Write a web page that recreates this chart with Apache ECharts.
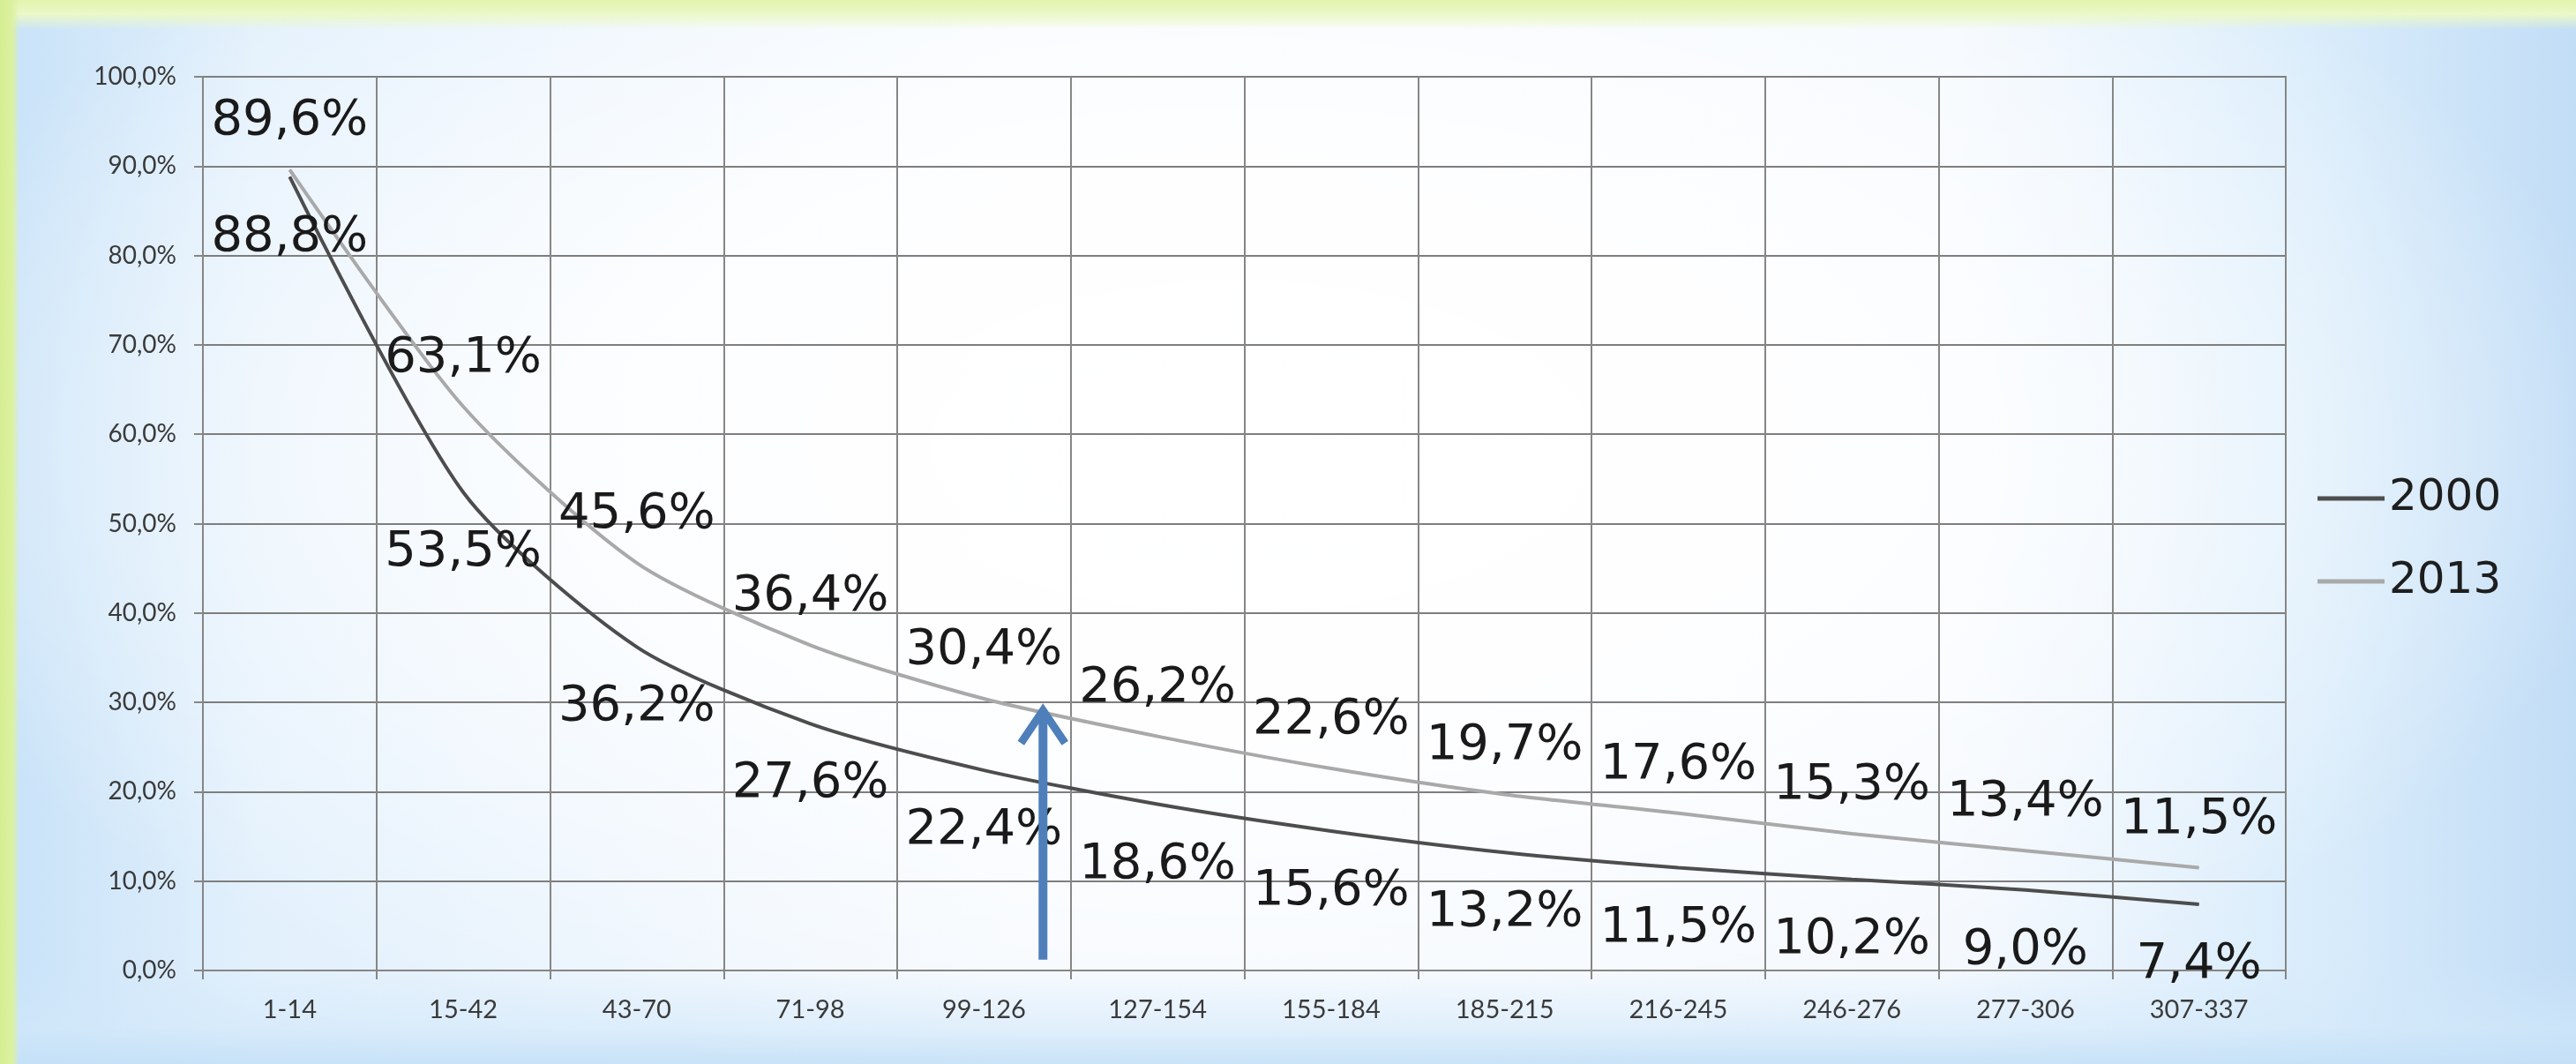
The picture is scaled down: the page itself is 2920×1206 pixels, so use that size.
<!DOCTYPE html>
<html><head><meta charset="utf-8">
<script src="https://cdn.jsdelivr.net/npm/echarts@6/dist/echarts.min.js"></script>
<style>
html,body{margin:0;padding:0;width:2920px;height:1206px;overflow:hidden;}
body{background:
 linear-gradient(to right, #d6ee92 0px, #dcf1a2 14px, rgba(220,241,164,0) 22px),
 linear-gradient(to bottom, #e2f4ae 0px, #ebf8c8 16px, rgba(234,247,198,0) 34px),
 linear-gradient(to top, rgba(196,224,247,0.9) 0px, rgba(210,232,250,0.6) 40px, rgba(220,238,252,0) 110px),
 radial-gradient(ellipse 55% 62% at 48% 42%, rgba(255,255,255,1) 0%, rgba(255,255,255,0.85) 45%, rgba(255,255,255,0) 100%),
 linear-gradient(to right, #c8e2f8 0%, #e2f0fc 10%, #f5f9fe 40%, #f3f8fe 76%, #d9ecfb 90%, #c2ddf6 100%);
}
#c{width:2920px;height:1206px;}
</style></head>
<body><div id="c"></div>
<script>
const categories = ['1-14','15-42','43-70','71-98','99-126','127-154','155-184','185-215','216-245','246-276','277-306','307-337'];
const seriesNames = ['2000','2013'];
const values2000 = [88.8, 53.5, 36.2, 27.6, 22.4, 18.6, 15.6, 13.2, 11.5, 10.2, 9.0, 7.4];
const values2013 = [89.6, 63.1, 45.6, 36.4, 30.4, 26.2, 22.6, 19.7, 17.6, 15.3, 13.4, 11.5];
const yMin = 0, yMax = 100, yStep = 10;
// arrow annotation: position along category axis (index units) and value range
const arrowCategoryPos = 4.34;
const arrowTipValue = 29.4;
const arrowBaseValue = 1.2;

const fmt = v => v.toFixed(1).replace('.', ',') + '%';

const chart = echarts.init(document.getElementById('c'), null, {renderer: 'canvas'});
const gridColor = '#868686';
const axisFont = 'Lato, "Open Sans", sans-serif';
const bigFont = '"DejaVu Sans", Lato, sans-serif';

chart.setOption({
  backgroundColor: 'transparent',
  animation: false,
  grid: {left: 230, right: 329, top: 87, bottom: 106, show: true, borderColor: gridColor, borderWidth: 2, backgroundColor: 'transparent'},
  legend: {
    orient: 'vertical', left: 2622, top: 534, itemGap: 42,
    icon: 'rect', itemWidth: 76, itemHeight: 5,
    textStyle: {fontSize: 50, lineHeight: 52, color: '#1e1e1e', fontFamily: bigFont},
    data: seriesNames
  },
  xAxis: {
    type: 'category', data: categories, boundaryGap: true,
    axisLine: {show: true, lineStyle: {color: gridColor, width: 2}},
    axisTick: {show: true, length: 10, lineStyle: {color: gridColor, width: 2}},
    axisLabel: {color: '#3a3a3a', fontSize: 29, fontFamily: axisFont, margin: 30, interval: 0},
    splitLine: {show: true, lineStyle: {color: gridColor, width: 2}}
  },
  yAxis: {
    type: 'value', min: yMin, max: yMax, interval: yStep,
    axisLine: {show: true, lineStyle: {color: gridColor, width: 2}},
    axisTick: {show: true, length: 10, lineStyle: {color: gridColor, width: 2}},
    axisLabel: {color: '#3a3a3a', fontSize: 28, fontFamily: axisFont, margin: 30, formatter: v => fmt(v)},
    splitLine: {show: true, lineStyle: {color: '#7e7e7e', width: 2}}
  },
  series: [
    {
      name: seriesNames[0], type: 'line', data: values2000, smooth: 0.25,
      showSymbol: true, symbol: 'circle', symbolSize: 1, color: '#4d4d4d',
      itemStyle: {color: '#4d4d4d'},
      lineStyle: {color: '#4d4d4d', width: 4},
      label: {show: true, position: 'bottom', distance: 39, formatter: p => fmt(p.value),
        fontSize: 56, lineHeight: 58, color: '#1a1a1a', fontFamily: bigFont},
      z: 3
    },
    {
      name: seriesNames[1], type: 'line', data: values2013, smooth: 0.25,
      showSymbol: true, symbol: 'circle', symbolSize: 1, color: '#a9a9a9',
      itemStyle: {color: '#a9a9a9'},
      lineStyle: {color: '#a9a9a9', width: 4},
      label: {show: true, position: 'top', distance: 25, formatter: p => fmt(p.value),
        fontSize: 56, lineHeight: 58, color: '#1a1a1a', fontFamily: bigFont},
      z: 2
    }
  ]
});

function drawArrow() {
  const i0 = Math.floor(arrowCategoryPos);
  const frac = arrowCategoryPos - i0;
  const xa = chart.convertToPixel({xAxisIndex: 0}, i0);
  const xb = chart.convertToPixel({xAxisIndex: 0}, i0 + 1);
  const x = xa + (xb - xa) * frac;
  const yTip = chart.convertToPixel({yAxisIndex: 0}, arrowTipValue);
  const yBase = chart.convertToPixel({yAxisIndex: 0}, arrowBaseValue);
  const headW = 25, headH = 40;
  const col = '#4f7fba';
  chart.setOption({
    graphic: [
      {type: 'line', shape: {x1: x, y1: yBase, x2: x, y2: yTip + 4}, style: {stroke: col, lineWidth: 10}, z: 10},
      {type: 'polyline', shape: {points: [[x - headW, yTip + headH], [x, yTip + 3], [x + headW, yTip + headH]]},
        style: {stroke: col, lineWidth: 9, fill: null, lineJoin: 'miter'}, z: 10}
    ]
  });
}
drawArrow();
</script>
</body></html>
